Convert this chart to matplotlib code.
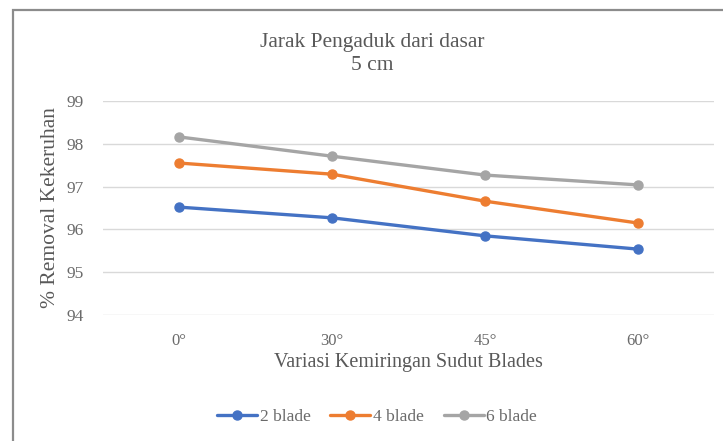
import matplotlib
matplotlib.use("Agg")
import matplotlib.pyplot as plt
from matplotlib.patches import Rectangle

plt.rcParams['font.family'] = ['Liberation Serif', 'DejaVu Serif']

# sudut kemiringan blade dan % removal kekeruhan
sudut = ['0°', '30°', '45°', '60°']
blade_2 = [96.52, 96.27, 95.85, 95.54]
blade_4 = [97.55, 97.29, 96.66, 96.15]
blade_6 = [98.16, 97.71, 97.27, 97.04]
series_labels = ['2 blade', '4 blade', '6 blade']
colors = ['#4472C4', '#ED7D31', '#A5A5A5']
yticks = [94, 95, 96, 97, 98, 99]

text_color = '#595959'
tick_color = '#6a6a6a'

W, H = 723, 441
fig = plt.figure(figsize=(W / 100, H / 100), dpi=100)

# bingkai chart
fig.patches.append(Rectangle((13 / W, -0.1), 1.2, 1.1 - 10 / H,
                             transform=fig.transFigure, fill=False,
                             edgecolor='#8c8c8c', linewidth=1.6))

ax = fig.add_axes([103 / W, 1 - 315 / H, (714 - 103) / W, (315 - 101) / H])

x = range(len(sudut))
for vals, lab, c in zip([blade_2, blade_4, blade_6], series_labels, colors):
    ax.plot(x, vals, color=c, linewidth=2.4, marker='o', markersize=6.5,
            label=lab, solid_capstyle='round')

ax.set_xlim(-0.5, len(sudut) - 0.5)
ax.set_ylim(94, 99)
ax.set_yticks(yticks)
ax.set_xticks(list(x))
ax.set_xticklabels(sudut)
ax.grid(axis='y', color='#D9D9D9', linewidth=1)
ax.set_axisbelow(True)
for s in ax.spines.values():
    s.set_visible(False)
ax.tick_params(length=0, labelcolor=tick_color)
ax.tick_params(axis='y', labelsize=12.5, pad=14)
ax.tick_params(axis='x', labelsize=12, pad=13)

# judul dua baris
fig.text(372 / W, 1 - 47 / H, 'Jarak Pengaduk dari dasar', ha='center',
         va='baseline', fontsize=15.5, color=text_color)
fig.text(372 / W, 1 - 70 / H, '5 cm', ha='center',
         va='baseline', fontsize=15.5, color=text_color)
fig.text(408 / W, 1 - 363 / H, 'Variasi Kemiringan Sudut Blades', ha='center',
         va='center', fontsize=14.5, color=text_color)
fig.text(51 / W, 1 - 208 / H, '% Removal Kekeruhan', ha='center', va='center',
         rotation=90, fontsize=15.5, color=text_color)

fig.legend(loc='center', bbox_to_anchor=(377 / W, 1 - 417 / H), ncol=3,
           frameon=False, fontsize=12.5, labelcolor=tick_color,
           handlelength=2.3, handletextpad=0.15, columnspacing=1.15)

fig.savefig('out.png', dpi=100)
